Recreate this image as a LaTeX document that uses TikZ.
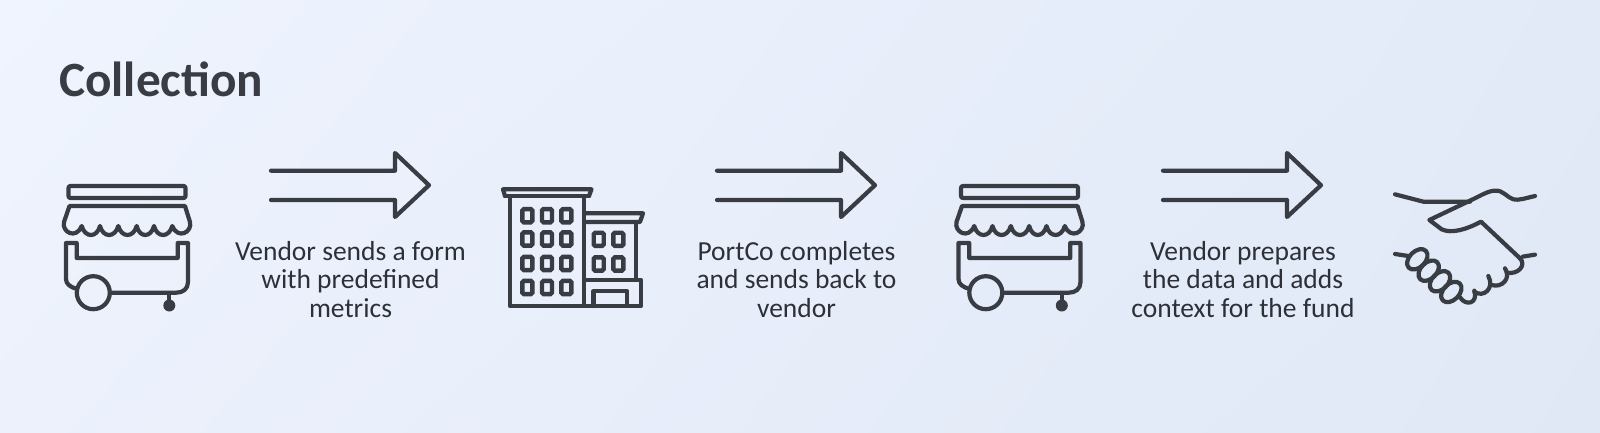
\documentclass[tikz,border=0pt]{standalone}
\usetikzlibrary{shadings}
\usepackage{fontspec}
\setmainfont{Carlito}
\definecolor{ink}{HTML}{3A3C44}
\definecolor{txt}{HTML}{2E3038}
\definecolor{bgul}{HTML}{EFF4FE}
\definecolor{bgur}{HTML}{E2EAF8}
\definecolor{bgll}{HTML}{ECF1FC}
\definecolor{bglr}{HTML}{E0E8F6}
\tikzset{
 x=1pt,y=-1pt,
 ic/.style={draw=ink,line width=4.2pt,line join=round,line cap=round},
 win/.style={draw=ink,line width=4.4pt,rounded corners=1.5pt},
 body/.style={font=\fontsize{27.5}{28.5}\selectfont,text=txt,align=center,anchor=base,inner sep=0pt},
 cart/.pic={
  \draw[ic,rounded corners=2pt] (68.5,186) rectangle (185.5,198);
  \draw[ic] (69.5,206) -- (185,206) -- (190,222) .. controls (192.5,232) and (178,240) .. (172.3,226)
    .. controls (169,238) and (157,238) .. (154,226)
    .. controls (151,238) and (139.5,238) .. (136.7,226)
    .. controls (133.5,238) and (121.5,238) .. (118.3,226)
    .. controls (115,238) and (103,238) .. (100,226)
    .. controls (97,238) and (85,238) .. (81.7,226)
    .. controls (76,240) and (61.5,232) .. (64,222) -- cycle;
  \draw[ic] (77,289) .. controls (70,287) and (66,284) .. (66,279) -- (66,243) -- (76.7,243) -- (76.7,258) -- (177.7,258) -- (177.7,243) -- (188,243) -- (188,282) .. controls (188,289) and (183,292.7) .. (176,292.7) -- (110,292.7);
  \draw[ic] (93.3,292.7) circle[radius=16.5];
  \draw[ic] (169.3,293) -- (169.3,302);
  \fill[ink] (169.3,305.5) circle[radius=6];
 },
 flow/.pic={
  \draw[ic] (271,170.7) -- (395,170.7) -- (395,153) -- (429,185.2) -- (395,217) -- (395,200) -- (271,200);
 }
}
\begin{document}
\begin{tikzpicture}
\useasboundingbox (0,0) rectangle (1600,433);
\shade[upper left=bgul,upper right=bgur,lower left=bgll,lower right=bglr] (0,0) rectangle (1600,433);

\node[font=\fontsize{49.3}{51}\selectfont\bfseries,text=ink,anchor=base west,inner sep=0pt] (title) at (59,97) {Collection};

\pic (cartA) at (0,0) {cart};
\pic (cartB) at (892.5,0) {cart};
\pic (flowA) at (0,0) {flow};
\pic (flowB) at (446,0) {flow};
\pic (flowC) at (892,0) {flow};

\node[body] (t1a) at (350.5,260) {Vendor sends a form};
\node[body] (t1b) at (350.5,288.5) {with predefined};
\node[body] (t1c) at (350.5,317) {metrics};
\node[body] (t2a) at (796.5,260) {PortCo completes};
\node[body] (t2b) at (796.5,288.5) {and sends back to};
\node[body] (t2c) at (796.5,317) {vendor};
\node[body] (t3a) at (1243,260) {Vendor prepares};
\node[body] (t3b) at (1243,288.5) {the data and adds};
\node[body] (t3c) at (1243,317) {context for the fund};

% building
\draw[ic] (505,196) -- (503,189.3) -- (591.5,189.3) -- (589,196);
\draw[ic] (505,196) -- (589,196);
\draw[ic] (510,198) -- (510,306) -- (641,306) -- (641,280) -- (584.3,280);
\draw[ic] (584.3,198) -- (584.3,306);
\draw[ic] (584.3,213.3) -- (643,213.3) -- (640,222) -- (584.3,222);
\draw[ic] (636,222) -- (636,280);
\draw[ic] (593.5,306) -- (593.5,291) -- (626.7,291) -- (626.7,306);
\foreach \x in {527.3,547,566.3}
  \foreach \y in {215.7,239,263.5,287.5}
    \draw[win] (\x-5,\y-6.6) rectangle (\x+5,\y+6.6);
\foreach \x in {598.7,618.3}
  \foreach \y in {239.3,264}
    \draw[win] (\x-5,\y-6.6) rectangle (\x+5,\y+6.6);

% handshake
\begin{scope}[shift={(1380,170)},x=0.3333pt,y=-0.3333pt]
  \draw[ic] (45,73) -- (130,95) -- (270,95);
  \draw[ic] (465,78) .. controls (435,85) and (415,92) .. (400,88) .. controls (380,82) and (370,60) .. (345,62)
     .. controls (325,62) and (300,78) .. (270,92) -- (148,150) -- (185,178)
     .. controls (215,192) and (260,178) .. (303,155) -- (420,265);
  \draw[ic] (465,254) -- (428,260);
  \draw[ic] (45,252) -- (85,258);
  \foreach \cx/\cy in {112/268,146/302,180/334,214/366}
    \draw[ic,rotate around={45:(\cx,\cy)}] (\cx,\cy) ellipse[x radius=36,y radius=24];
  \draw[ic] (240,382) .. controls (258,410) and (295,400) .. (283,362);
  \draw[ic] (283,365) .. controls (310,385) and (345,355) .. (325,318);
  \draw[ic] (335,345) .. controls (365,355) and (395,325) .. (375,295);
  \draw[ic] (380,308) .. controls (415,315) and (440,285) .. (420,265);
\end{scope}
\end{tikzpicture}
\end{document}
